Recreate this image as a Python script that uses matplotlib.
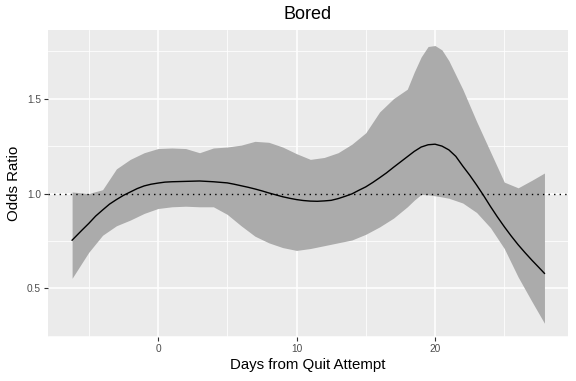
import numpy as np
import matplotlib.pyplot as plt
from matplotlib.ticker import MultipleLocator

# --- data ---
# fitted odds ratio (read every half day)
line_days = [-6.2, -5.5, -5, -4.5, -4, -3.5, -3, -2.5, -2, -1.5, -1, -0.5, 0,
             0.5, 1, 1.5, 2, 2.5, 3, 3.5, 4, 4.5, 5, 5.5, 6, 6.5, 7, 7.5, 8,
             8.5, 9, 9.5, 10, 10.5, 11, 11.5, 12, 12.5, 13, 13.5, 14, 14.5, 15,
             15.5, 16, 16.5, 17, 17.5, 18, 18.5, 19, 19.5, 20, 20.5, 21, 21.5,
             22, 22.5, 23, 23.5, 24, 24.5, 25, 25.5, 26, 26.5, 27, 27.5, 27.9]
odds = [0.754, 0.806, 0.842, 0.881, 0.913, 0.944, 0.968, 0.990, 1.008, 1.026,
        1.040, 1.049, 1.055, 1.060, 1.062, 1.063, 1.064, 1.065, 1.066, 1.064,
        1.062, 1.059, 1.056, 1.049, 1.041, 1.033, 1.024, 1.014, 1.003, 0.993,
        0.983, 0.975, 0.968, 0.963, 0.960, 0.959, 0.961, 0.964, 0.973, 0.985,
        0.998, 1.017, 1.035, 1.058, 1.083, 1.109, 1.138, 1.166, 1.194, 1.222,
        1.245, 1.257, 1.260, 1.250, 1.230, 1.196, 1.145, 1.097, 1.045, 0.990,
        0.932, 0.877, 0.825, 0.776, 0.730, 0.688, 0.648, 0.610, 0.579]

# confidence band
band_days = [-6.2, -5, -4, -3, -2, -1, 0, 1, 2, 3, 4, 5, 6, 7, 8, 9, 10, 11,
             12, 13, 14, 15, 16, 17, 18, 18.5, 19, 19.5, 20, 20.5, 21, 22, 23,
             24, 25, 26, 27, 27.9]
upper = [1.008, 1.00, 1.02, 1.13, 1.18, 1.215, 1.237, 1.24, 1.237, 1.215, 1.24,
         1.245, 1.255, 1.275, 1.27, 1.245, 1.21, 1.18, 1.19, 1.215, 1.26, 1.32,
         1.43, 1.50, 1.55, 1.64, 1.72, 1.775, 1.78, 1.757, 1.70, 1.55, 1.38,
         1.22, 1.06, 1.03, 1.07, 1.108]
lower = [0.553, 0.69, 0.78, 0.83, 0.86, 0.895, 0.921, 0.93, 0.933, 0.93, 0.93,
         0.89, 0.83, 0.775, 0.74, 0.715, 0.70, 0.71, 0.725, 0.74, 0.755, 0.785,
         0.824, 0.87, 0.93, 0.965, 0.995, 0.993, 0.988, 0.982, 0.975, 0.95,
         0.90, 0.82, 0.71, 0.56, 0.43, 0.316]

plt.rcParams['font.family'] = ['Liberation Sans', 'DejaVu Sans']

fig = plt.figure(figsize=(5.76, 3.81), dpi=100)
ax = fig.add_axes([48 / 576, 1 - 337.3 / 381, 520 / 576, 307.3 / 381])

# ggplot-like panel
ax.set_facecolor('#EBEBEB')
for s in ax.spines.values():
    s.set_visible(False)
ax.xaxis.set_major_locator(MultipleLocator(10))
ax.xaxis.set_minor_locator(MultipleLocator(5))
ax.yaxis.set_major_locator(MultipleLocator(0.5))
ax.yaxis.set_minor_locator(MultipleLocator(0.25))
ax.grid(which='major', color='white', linewidth=1.1)
ax.grid(which='minor', color='white', linewidth=0.55)
ax.set_axisbelow(True)
ax.tick_params(which='minor', length=0)
ax.tick_params(which='major', length=3, width=0.8, color='#333333',
               labelcolor='#4D4D4D', labelsize=7.3, pad=2)

ax.fill_between(band_days, lower, upper, color='#ABABAB', linewidth=0, zorder=2)
ax.plot(line_days, odds, color='black', linewidth=1.0, zorder=3)
ax.axhline(1.0, color='black', linestyle=(0, (1, 3)), linewidth=1.0, zorder=4)

ax.set_xlim(-7.94, 29.6)
ax.set_ylim(0.242, 1.862)
ax.set_yticks([0.5, 1.0, 1.5])
ax.set_yticklabels(['0.5', '1.0', '1.5'])

ax.set_title('Bored', fontsize=13, pad=8)
ax.set_xlabel('Days from Quit Attempt', fontsize=10.8, labelpad=3)
ax.set_ylabel('Odds Ratio', fontsize=10.8, labelpad=4)

fig.savefig('out.png', dpi=100)
